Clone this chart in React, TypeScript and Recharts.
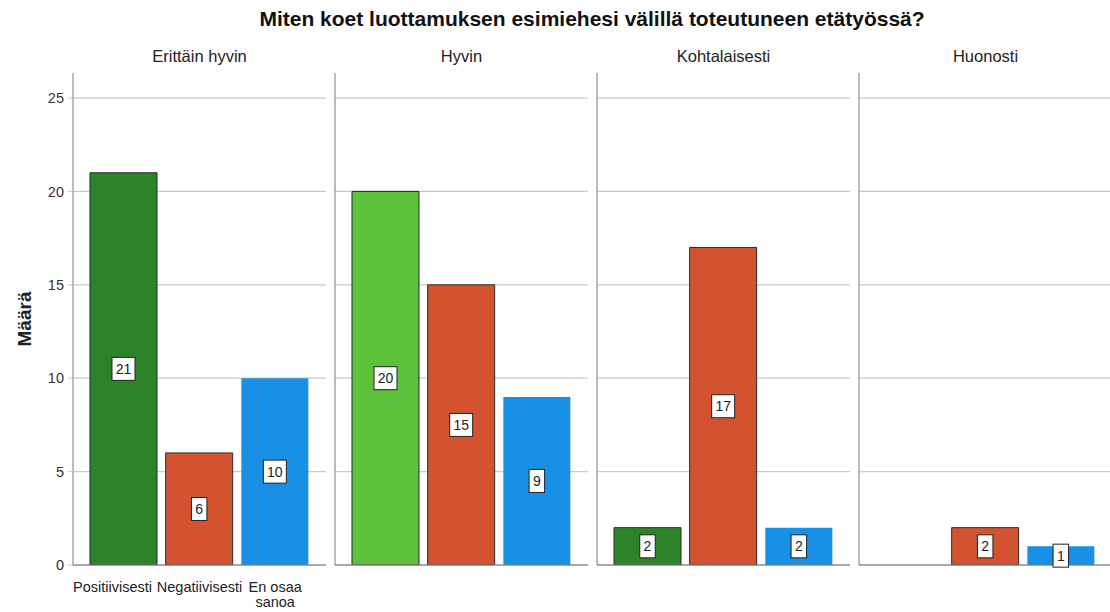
import React from 'react';
import { BarChart, Bar, XAxis, YAxis, CartesianGrid, Cell, LabelList } from 'recharts';

// categories on the x axis of each facet
const categories = ['Positiivisesti', 'Negatiivisesti', 'En osaa sanoa'];
// facet titles (columns)
const panels = ['Erittäin hyvin', 'Hyvin', 'Kohtalaisesti', 'Huonosti'];

// counts per facet
const positiivisesti: (number | null)[] = [21, 20, 2, null];
const negatiivisesti: (number | null)[] = [6, 15, 17, 2];
const enOsaaSanoa: (number | null)[] = [10, 9, 2, 1];

const yTicks = [0, 5, 10, 15, 20, 25];
const Y_MAX = 26.34;

const DARK_GREEN = '#2d8428';
const LIGHT_GREEN = '#5dc13a';
const RED = '#d35330';
const BLUE = '#1790e6';
const positiveColors = [DARK_GREEN, LIGHT_GREEN, DARK_GREEN, DARK_GREEN];

const FONT = '"Liberation Sans", Arial, sans-serif';
const PLOT_TOP = 73;
const PLOT_BOTTOM = 565;
const PLOT_W = 253;
const Y_AXIS_W = 73;

// wraps multi-word labels, keeps the first label inside the panel like SPSS does
const WrapTick = (props: any) => {
  const { x, y, payload, index, plotLeft } = props;
  const words = String(payload.value).split(' ');
  const lines: string[] = [];
  let cur = '';
  words.forEach(w => {
    const next = cur ? cur + ' ' + w : w;
    if (cur && next.length > 10) {
      lines.push(cur);
      cur = w;
    } else {
      cur = next;
    }
  });
  if (cur) lines.push(cur);
  const clampStart = index === 0 && lines[0].length > 10;
  const tx = clampStart ? plotLeft : x;
  return (
    <text x={tx} y={y} textAnchor={clampStart ? 'start' : 'middle'} fontSize={14.5} fill="#222" fontFamily={FONT}>
      {lines.map((l, i) => (
        <tspan key={i} x={tx} dy={i === 0 ? 27 : 15}>{l}</tspan>
      ))}
    </text>
  );
};

const BoxLabel = (props: any) => {
  const { value } = props;
  if (value == null || value === 0) return null;
  const vb = props.viewBox && props.viewBox.width != null ? props.viewBox : props;
  const cx = vb.x + vb.width / 2;
  const cy = vb.y + vb.height / 2;
  const w = 8 + 7.5 * String(value).length;
  const h = 23;
  return (
    <g>
      <rect x={cx - w / 2} y={cy - h / 2} width={w} height={h} fill="#fff" stroke="#222" strokeWidth={1} />
      <text x={cx} y={cy + 5} textAnchor="middle" fontSize={14} fill="#222" fontFamily={FONT}>{value}</text>
    </g>
  );
};

// grid rows only at the tick values (not at the top of the domain)
const gridRows = (p: any) => {
  const s = p?.yAxis?.scale;
  if (typeof s === 'function') return yTicks.map(t => s(t));
  if (s && typeof s.map === 'function') return yTicks.map(t => s.map(t));
  const o = p.offset;
  return yTicks.map(t => o.top + o.height * (1 - t / Y_MAX));
};

const Panel: React.FC<{ index: number }> = ({ index }) => {
  const first = index === 0;
  const data = categories.map((name, ci) => ({
    name,
    value: [positiivisesti, negatiivisesti, enOsaaSanoa][ci][index],
  }));
  const colors = [positiveColors[index], RED, BLUE];
  const strokes = ['#2a2a2a', '#2a2a2a', 'none'];
  const axisW = first ? Y_AXIS_W : 1;
  const plotLeft = 73 + index * 262;
  const left = plotLeft - axisW;
  const width = PLOT_W + axisW;
  return (
    <div style={{ position: 'absolute', left, top: 0 }}>
      <BarChart
        width={width}
        height={612}
        data={data}
        margin={{ top: PLOT_TOP, right: 0, bottom: 0, left: 0 }}
        barSize={67}
      >
        <CartesianGrid vertical={false} stroke="#c8c8c8" strokeWidth={1.3} horizontalCoordinatesGenerator={gridRows} />
        <XAxis
          dataKey="name"
          height={612 - PLOT_BOTTOM}
          padding={{ left: 13, right: 13 }}
          axisLine={{ stroke: '#7a7a7a' }}
          tickLine={false}
          tickSize={0}
          tickMargin={0}
          interval={0}
          tick={first ? <WrapTick plotLeft={Y_AXIS_W} /> : false}
        />
        <YAxis
          domain={[0, Y_MAX]}
          ticks={yTicks}
          allowDataOverflow
          width={axisW}
          axisLine={{ stroke: '#7a7a7a' }}
          tickLine={first ? { stroke: '#c8c8c8' } : false}
          tickSize={first ? 5 : 0}
          tickMargin={first ? 4 : 0}
          tick={first ? { fontSize: 14.5, fill: '#333', fontFamily: FONT } : false}
          label={
            first
              ? { value: 'Määrä', angle: -90, position: 'insideLeft', offset: 10, dx: 14, style: { fontSize: 19, fontWeight: 'bold', fill: '#222', fontFamily: FONT, textAnchor: 'middle' } }
              : undefined
          }
        />
        <Bar dataKey="value" isAnimationActive={false}>
          {data.map((d, i) => (
            <Cell key={d.name} fill={colors[i]} stroke={strokes[i]} strokeWidth={1} />
          ))}
          <LabelList dataKey="value" content={<BoxLabel />} />
        </Bar>
      </BarChart>
      <div
        style={{
          position: 'absolute',
          top: 47,
          left: axisW,
          width: PLOT_W,
          textAlign: 'center',
          fontSize: 16.5,
          color: '#222',
          fontFamily: FONT,
        }}
      >
        {panels[index]}
      </div>
    </div>
  );
};

export default function App() {
  return (
    <div style={{ position: 'absolute', left: 0, top: 0, width: 1110, height: 612, background: '#fff', overflow: 'hidden' }}>
      <div
        style={{
          position: 'absolute',
          top: 7,
          left: 0,
          width: 1184,
          textAlign: 'center',
          fontSize: 21,
          fontWeight: 'bold',
          color: '#111',
          fontFamily: FONT,
        }}
      >
        Miten koet luottamuksen esimiehesi välillä toteutuneen etätyössä?
      </div>
      {panels.map((p, i) => (
        <Panel key={p} index={i} />
      ))}
    </div>
  );
}
